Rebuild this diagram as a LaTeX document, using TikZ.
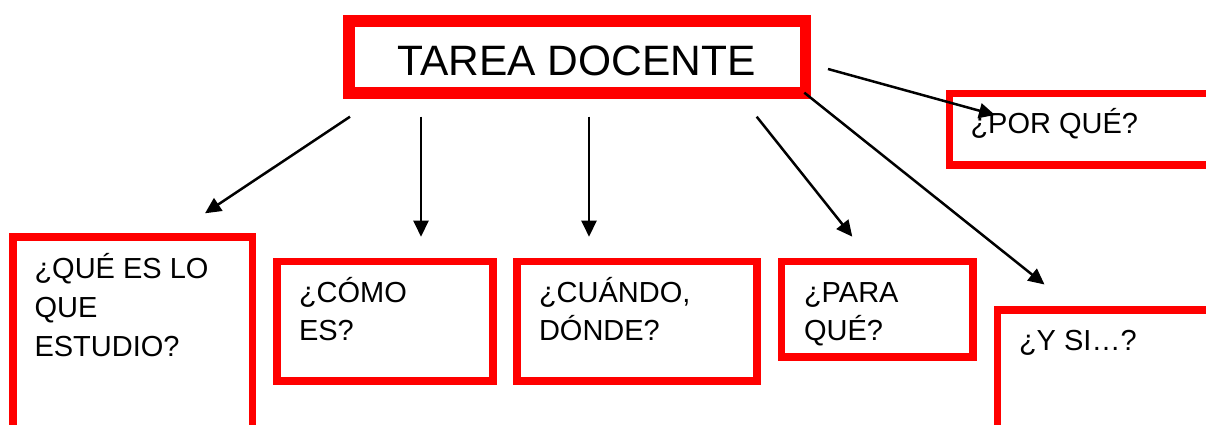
\documentclass[tikz,border=0pt]{standalone}
\usepackage{fontspec}
\setmainfont{Liberation Sans}
\usetikzlibrary{arrows.meta}
\definecolor{boxred}{RGB}{255,0,0}
\tikzset{
  box/.style={draw=boxred, line width=7.7pt, rectangle, inner sep=0pt, outer sep=0pt},
  bigbox/.style={box, line width=11.5pt},
  txt/.style={inner sep=0pt, outer sep=0pt, anchor=base west, align=left, font=\fontsize{29}{38.5}\selectfont},
  arr/.style={line width=2.5pt, -{Triangle[length=16pt,width=15pt]}},
}
\begin{document}
\begin{tikzpicture}[x=1pt,y=-1pt]
\useasboundingbox (0,0) rectangle (1206,425);
\clip (0,0) rectangle (1206,425);
% boxes
\node[bigbox, minimum width=456.5pt, minimum height=72pt] (top) at (577.25,57) {};
\node[box, minimum width=239.5pt, minimum height=203pt] (que) at (132.75,338.5) {};
\node[box, minimum width=216pt, minimum height=119.5pt] (como) at (385,321.25) {};
\node[box, minimum width=240pt, minimum height=119.5pt] (cuando) at (637,321.25) {};
\node[box, minimum width=191.8pt, minimum height=95.5pt] (para) at (877.4,309.25) {};
\node[box, line width=7.5pt, minimum width=270.3pt, minimum height=71.5pt] (porque) at (1084.85,129.25) {};
\node[box, minimum width=222.5pt, minimum height=130pt] (ysi) at (1108.75,375) {};
% texts (base anchor = last line)
\node[inner sep=0pt, anchor=base, font=\fontsize{42.5}{50}\selectfont] (ttop) at (576.5,76) {TAREA DOCENTE};
\node[txt, font=\fontsize{29}{38.9}\selectfont] (tque) at (34.5,356) {¿QUÉ ES LO\\QUE\\ESTUDIO?};
\node[txt] (tcomo) at (299,340.7) {¿CÓMO\\ES?};
\node[txt] (tcuando) at (539,340.7) {¿CUÁNDO,\\DÓNDE?};
\node[txt] (tpara) at (804,340.7) {¿PARA\\QUÉ?};
\node[txt] (tporque) at (970.5,133) {¿POR QUÉ?};
\node[txt] (tysi) at (1019,350.7) {¿Y SI…?};
% arrow ends
\coordinate (s1) at (350,116.7);  \coordinate (e1) at (205,213.3);
\coordinate (s2) at (421,116.7);  \coordinate (e2) at (421,236.7);
\coordinate (s3) at (589,116.7);  \coordinate (e3) at (589,236.7);
\coordinate (s4) at (756.7,116.7);\coordinate (e4) at (852.3,236.7);
\coordinate (s5) at (804.3,92.7); \coordinate (e5) at (1044.5,284.5);
\coordinate (s6) at (828,69);     \coordinate (e6) at (995,115);
\draw[arr] (s1) -- (e1);
\draw[arr] (s2) -- (e2);
\draw[arr] (s3) -- (e3);
\draw[arr] (s4) -- (e4);
\draw[arr] (s5) -- (e5);
\draw[arr] (s6) -- (e6);
\end{tikzpicture}
\end{document}
